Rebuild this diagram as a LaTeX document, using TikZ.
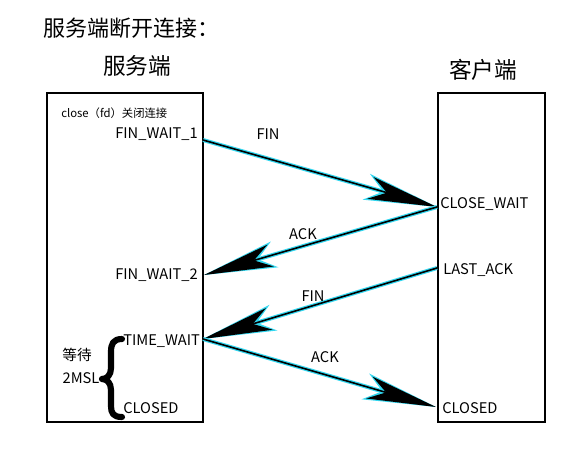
\documentclass[tikz,border=0pt]{standalone}
\usepackage{fontspec}
\setmainfont{Noto Sans CJK SC}
\usetikzlibrary{arrows.meta}
\begin{document}
\begin{tikzpicture}[x=0.75pt,y=-0.75pt,
  box/.style={draw=black,line width=1.2pt},
  st/.style={font=\fontsize{11}{13}\selectfont,inner sep=0pt},
  lbl/.style={font=\fontsize{11}{13}\selectfont,inner sep=0pt},
  glow/.style={draw={rgb,255:red,50;green,215;blue,240},line width=3pt,
    -{Stealth[length=55pt,width=20pt,inset=13pt]}},
  core/.style={draw=black,line width=1.2pt,
    -{Stealth[length=52pt,width=17pt,inset=13pt]}}]
\useasboundingbox (0,0) rectangle (582,457);
% title
\node[anchor=west,inner sep=0pt,font=\fontsize{16.5}{18}\selectfont] (title) at (43,28) {服务端断开连接：};
\node[inner sep=0pt,font=\fontsize{17}{19}\selectfont] (srv) at (137,66) {服务端};
\node[inner sep=0pt,font=\fontsize{17}{19}\selectfont] (cli) at (483,70) {客户端};
% boxes
\draw[box] (47,93) rectangle (203,422);
\draw[box] (438,93) rectangle (545,422);
% text in boxes
\node[anchor=west,inner sep=0pt,font=\fontsize{8.5}{10}\selectfont] (close) at (61,113) {close（fd）关闭连接};
\node[st,anchor=east] (fw1t) at (198,134) {FIN\_WAIT\_1};
\node[st,anchor=west] (cwt) at (440,204) {CLOSE\_WAIT};
\node[st,anchor=east] (fw2t) at (198,275) {FIN\_WAIT\_2};
\node[st,anchor=west] (lat) at (443,270) {LAST\_ACK};
\node[st,anchor=west] (twt) at (123,341) {TIME\_WAIT};
\node[st,anchor=west] (clt) at (123,408) {CLOSED};
\node[st,anchor=west] (crt) at (442,408) {CLOSED};
\node[st] (wait) at (77,355) {等待};
\node[st] (msl) at (81,378) {2MSL};
% brace
\draw[line width=4.6pt,line cap=round,line join=round]
  (122,339) .. controls (113,339) and (111,344) .. (111,352) -- (111,368)
  .. controls (111,375) and (107,379) .. (102,379)
  .. controls (107,379) and (111,383) .. (111,390) -- (111,406)
  .. controls (111,413) and (113,417) .. (122,417);
% connector end points
\coordinate (fw1) at (203,140);
\coordinate (cw) at (437,207);
\coordinate (fw2) at (204,275);
\coordinate (la) at (437,268);
\coordinate (tw) at (203,339);
\coordinate (cr) at (436,407);
% arrows
\foreach \a/\b in {fw1/cw,cw/fw2,la/tw,tw/cr}{
  \draw[glow] (\a) -- (\b);
  \draw[core] (\a) -- (\b);
}
\node[lbl] (l1) at (268,134) {FIN};
\node[lbl] (l2) at (303,234) {ACK};
\node[lbl] (l3) at (313,296) {FIN};
\node[lbl] (l4) at (325,357) {ACK};
\end{tikzpicture}
\end{document}
